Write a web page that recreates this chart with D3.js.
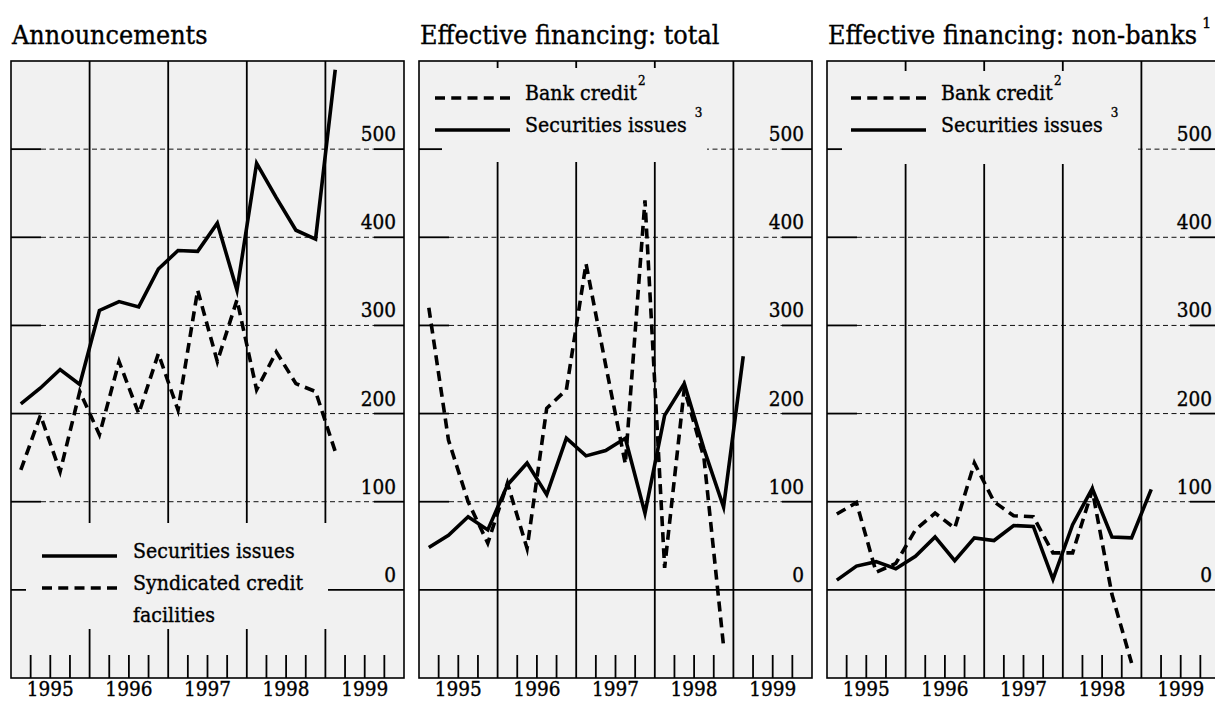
<!DOCTYPE html>
<html>
<head>
<meta charset="utf-8">
<script src="https://cdn.jsdelivr.net/npm/d3@7/dist/d3.min.js"></script>
<style>
  html, body { margin: 0; padding: 0; background: #ffffff; }
  svg { display: block; }
  text { font-family: "DejaVu Serif", "Liberation Serif", serif; fill: #000; stroke: #000; stroke-width: 0.35px; }
</style>
</head>
<body>
<svg id="chart" width="1215" height="701"></svg>
<script>
// ---------------- data ----------------
const quarters = ["1995Q1","1995Q2","1995Q3","1995Q4","1996Q1","1996Q2","1996Q3","1996Q4",
                  "1997Q1","1997Q2","1997Q3","1997Q4","1998Q1","1998Q2","1998Q3","1998Q4","1999Q1"];
const yearLabels = ["1995","1996","1997","1998","1999"];
const yTickValues = [0, 100, 200, 300, 400, 500];
const panelTitles = ["Announcements", "Effective financing: total", "Effective financing: non-banks"];

// Announcements
const annSecurities = [211, 229, 250, 233, 317, 327, 321, 364, 385, 384, 416, 340, 484, 445, 408, 398, 590];
const annSyndicated = [136, 198, 134, 225, 176, 259, 200, 268, 204, 340, 259, 329, 227, 270, 234, 225, 157];
// Effective financing: total
const totBankCredit = [320, 170, 100, 53, 121, 47, 206, 227, 370, 255, 143, 442, 25, 228, 150, -64];
const totSecurities = [48, 62, 83, 68, 119, 144, 108, 172, 152, 158, 172, 87, 198, 234, 160, 94, 265];
// Effective financing: non-banks
const nbBankCredit = [86, 99, 20, 30, 68, 87, 70, 144, 100, 84, 83, 42, 42, 113, -5, -83];
const nbSecurities = [11, 27, 32, 24, 38, 60, 33, 59, 56, 73, 72, 12, 74, 115, 60, 59, 114];

// ---------------- layout ----------------
const svg = d3.select("#chart");
const plotTop = 61, plotBottom = 678, panelW = 393;
const panelLefts = [11, 419, 827];
const bg = "#f1f1f1";
const vScale = 1.1; // vertical stretch of glyphs to match reference letter height

function qToYear(q) {
  const yr = +q.slice(0, 4), n = +q.slice(5);
  return yr + (n - 1) / 4 + 1 / 8;
}

function addText(g, x, y, size, anchor) {
  return g.append("text")
    .attr("transform", `translate(${x},${y}) scale(1,${vScale})`)
    .attr("text-anchor", anchor || "start")
    .style("font-size", size + "px");
}

const panels = [
  {
    title: panelTitles[0], titleSup: null,
    series: [
      { values: annSecurities, dashed: false },
      { values: annSyndicated, dashed: true }
    ],
    legend: {
      box: [15, 523, 302, 106], lineX: [31, 106], textX: 122,
      items: [
        { dashed: false, lineY: 556, lines: [{ t: "Securities issues", y: 558 }] },
        { dashed: true, lineY: 588, lines: [{ t: "Syndicated credit", y: 590 }, { t: "facilities", y: 622 }] }
      ]
    }
  },
  {
    title: panelTitles[1], titleSup: null,
    series: [
      { values: totBankCredit, dashed: true },
      { values: totSecurities, dashed: false }
    ],
    legend: {
      box: [23, 68, 265, 94], lineX: [16, 91], textX: 106,
      items: [
        { dashed: true, lineY: 98, lines: [{ t: "Bank credit", y: 100, sup: "2", space: false }] },
        { dashed: false, lineY: 130, lines: [{ t: "Securities issues", y: 132, sup: "3", space: true }] }
      ]
    }
  },
  {
    title: panelTitles[2], titleSup: "1",
    series: [
      { values: nbBankCredit, dashed: true },
      { values: nbSecurities, dashed: false }
    ],
    legend: {
      box: [15, 71, 296, 93], lineX: [24, 99], textX: 114,
      items: [
        { dashed: true, lineY: 98, lines: [{ t: "Bank credit", y: 100, sup: "2", space: false }] },
        { dashed: false, lineY: 130, lines: [{ t: "Securities issues", y: 132, sup: "3", space: true }] }
      ]
    }
  }
];

panels.forEach((p, pi) => {
  const L = panelLefts[pi], R = L + panelW;
  const x = d3.scaleLinear().domain([1995, 2000]).range([L, R]);
  const y = d3.scaleLinear().domain([-100, 600]).range([plotBottom, plotTop]);
  const g = svg.append("g");

  // title
  const tt = addText(g, L + 1, 44, 24);
  tt.append("tspan").text(p.title);
  if (p.titleSup) {
    tt.append("tspan").attr("dx", 5).attr("dy", -15).style("font-size", "14px").text(p.titleSup);
  }

  // plot background
  g.append("rect").attr("x", L).attr("y", plotTop).attr("width", panelW).attr("height", plotBottom - plotTop)
    .attr("fill", bg);

  // horizontal grid lines
  yTickValues.forEach(v => {
    const yy = y(v);
    if (v === 0) {
      g.append("line").attr("x1", L).attr("x2", R).attr("y1", yy).attr("y2", yy)
        .attr("stroke", "#000").attr("stroke-width", 1.6);
    } else {
      g.append("line").attr("x1", L + 30).attr("x2", R - 30).attr("y1", yy).attr("y2", yy)
        .attr("stroke", "#111").attr("stroke-width", 1).attr("stroke-dasharray", "5,3.5");
      g.append("line").attr("x1", L).attr("x2", L + 30).attr("y1", yy).attr("y2", yy)
        .attr("stroke", "#000").attr("stroke-width", 1.8);
      g.append("line").attr("x1", R - 30).attr("x2", R).attr("y1", yy).attr("y2", yy)
        .attr("stroke", "#000").attr("stroke-width", 1.8);
    }
  });

  // vertical year lines
  [1996, 1997, 1998, 1999].forEach(yr => {
    g.append("line").attr("x1", x(yr)).attr("x2", x(yr)).attr("y1", plotTop).attr("y2", plotBottom)
      .attr("stroke", "#000").attr("stroke-width", 1.8);
  });

  // quarter ticks
  [1995, 1996, 1997, 1998, 1999].forEach(yr => {
    [1, 2, 3].forEach(q => {
      const xx = x(yr + q / 4);
      g.append("line").attr("x1", xx).attr("x2", xx).attr("y1", plotBottom - 23).attr("y2", plotBottom)
        .attr("stroke", "#000").attr("stroke-width", 1.8);
    });
  });

  // y labels
  yTickValues.forEach(v => {
    addText(g, R - 8, y(v) - 8, 18.5, "end").text(d3.format("d")(v));
  });

  // x labels
  yearLabels.forEach(lbl => {
    addText(g, x(+lbl + 0.5), 695.5, 18.5, "middle").text(lbl);
  });

  // legend
  const lg = p.legend;
  g.append("rect").attr("x", L + lg.box[0]).attr("y", lg.box[1]).attr("width", lg.box[2]).attr("height", lg.box[3])
    .attr("fill", bg);
  lg.items.forEach(it => {
    g.append("line").attr("x1", L + lg.lineX[0]).attr("x2", L + lg.lineX[1])
      .attr("y1", it.lineY).attr("y2", it.lineY)
      .attr("stroke", "#000").attr("stroke-width", 3.5)
      .attr("stroke-dasharray", it.dashed ? "10,6.25" : null);
    it.lines.forEach(ln => {
      const t = addText(g, L + lg.textX, ln.y, 19);
      t.append("tspan").text(ln.t + (ln.space ? " " : ""));
      if (ln.sup) {
        t.append("tspan").attr("dx", ln.space ? 2 : 1).attr("dy", -13.5).style("font-size", "12px").text(ln.sup);
      }
    });
  });

  // data lines
  const line = d3.line().x((d, i) => x(qToYear(quarters[i]))).y(d => y(d));
  p.series.forEach(s => {
    g.append("path").datum(s.values).attr("d", line)
      .attr("fill", "none").attr("stroke", "#000").attr("stroke-width", 3.6)
      .attr("stroke-linejoin", "miter").attr("stroke-miterlimit", 10)
      .attr("stroke-dasharray", s.dashed ? "10,6" : null);
  });

  // frame
  g.append("rect").attr("x", L).attr("y", plotTop).attr("width", panelW).attr("height", plotBottom - plotTop)
    .attr("fill", "none").attr("stroke", "#000").attr("stroke-width", 1.6);
});
</script>
</body>
</html>
